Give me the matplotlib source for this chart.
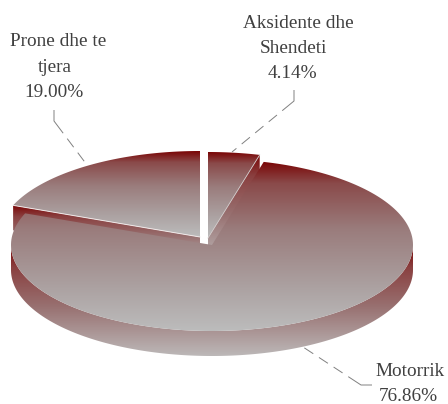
import numpy as np
import matplotlib
matplotlib.use('Agg')
import matplotlib.pyplot as plt
from matplotlib.colors import LinearSegmentedColormap
from matplotlib.patches import Polygon

labels = [['Aksidente dhe', 'Shendeti'], ['Motorrik'], ['Prone dhe te', 'tjera']]
values = [4.14, 76.86, 19.00]

plt.rcParams['font.family'] = ['Liberation Serif', 'DejaVu Serif']

A, B, DEPTH = 201, 86, 25
# exploded centre of each slice, in pixels
centres = [(208, 238), (212, 245), (200, 237)]

face_cmap = LinearSegmentedColormap.from_list('face', [(0, '#7a0505'), (0.13, '#8a4a4a'), (0.4, '#9a7c7c'), (0.75, '#aca2a2'), (1, '#bcbcbc')])
wall_cmap = LinearSegmentedColormap.from_list('wall', [(0, '#7a0505'), (0.2, '#8a4040'), (0.55, '#987070'), (1, '#bcb8b8')])

fig = plt.figure(figsize=(4.48, 4.04), dpi=100)
ax = fig.add_axes([0, 0, 1, 1])
ax.axis('off')


def arc(cx, cy, t0, t1, dy=0):
	t = np.radians(np.linspace(t0, t1, 200))
	return np.column_stack([cx + A * np.sin(t), cy - B * np.cos(t) + dy])


def fill(pts, cmap, edge='none'):
	ys = pts[:, 1]
	grad = np.linspace(0, 1, 256).reshape(-1, 1)
	im = ax.imshow(grad, cmap=cmap, aspect='auto', extent=[0, 448, ys.max(), ys.min()], zorder=ax_z[0])
	patch = Polygon(pts, closed=True, fc='none', ec=edge, lw=0.6, zorder=ax_z[0] + 0.5)
	ax.add_patch(patch)
	im.set_clip_path(patch)
	ax_z[0] += 1


ax_z = [1]
cum = np.cumsum([0] + values) * 3.6
t_aks = (cum[0], cum[1])
t_mot = (cum[1], cum[2])
t_pro = (cum[2], cum[3])

# prone: cut face below the front edge
c = centres[2]
p0 = arc(c[0], c[1], t_pro[0], t_pro[0], 0)[0]
fill(np.array([p0, c, (c[0], c[1] + DEPTH), (p0[0], p0[1] + DEPTH)]), wall_cmap)

# aksidente: cut face on the right
c = centres[0]
p1 = arc(c[0], c[1], t_aks[1], t_aks[1], 0)[0]
fill(np.array([p1, c, (c[0], c[1] + DEPTH), (p1[0], p1[1] + DEPTH)]), wall_cmap)

# motorrik wall, visible part of the rim only
c = centres[1]
top = arc(c[0], c[1], 90, 270)
fill(np.vstack([top, arc(c[0], c[1], 90, 270, DEPTH)[::-1]]), wall_cmap)

# top faces
fill(np.vstack([[c], arc(c[0], c[1], *t_mot)]), face_cmap)
c = centres[0]
fill(np.vstack([[c], arc(c[0], c[1], *t_aks)]), face_cmap)
c = centres[2]
fill(np.vstack([[c], arc(c[0], c[1], *t_pro)]), face_cmap)
ax.plot([p0[0], c[0]], [p0[1], c[1]], color='#f0e8e8', lw=0.7, zorder=ax_z[0])
c = centres[0]
ax.plot([p1[0], c[0]], [p1[1], c[1]], color='#cfc8c8', lw=0.6, zorder=ax_z[0])

ax.set_xlim(0, 448)
ax.set_ylim(404, 0)

# leader lines
for xs, ys in [((294, 294, 232), (90, 101, 152)), ((54, 54, 87), (110, 121, 165)), ((372, 361, 303), (385, 385, 347))]:
	ax.plot(xs, ys, color='#808080', lw=0.7, ls=(0, (27, 7, 11, 7, 11, 7, 11, 7)), zorder=ax_z[0])

# each label line sits at its own x, the source centres them unevenly
text_kw = dict(ha='center', va='center', fontsize=13.9, color='#404040', zorder=ax_z[0])
label_x = [[298, 293, 292], [410.5, 408.5], [58.5, 54.5, 53.5]]
label_y = [23, 371, 42]
for names, value, xs, y in zip(labels, values, label_x, label_y):
	lines = names + ['%.2f%%' % value]
	for i, line in enumerate(lines):
		ax.text(xs[i], y + i * 25.3, line, **text_kw)

plt.savefig('out.png', dpi=100)
